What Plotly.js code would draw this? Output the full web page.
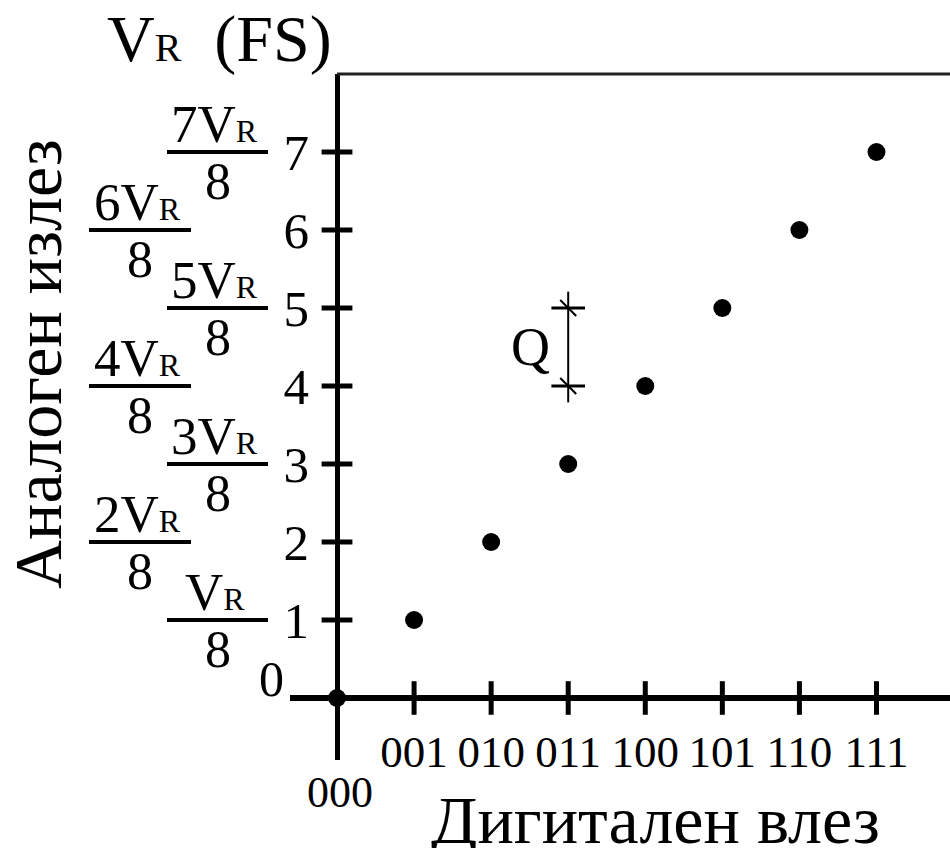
<!DOCTYPE html>
<html><head><meta charset="utf-8">
<script src="https://cdn.plot.ly/plotly-3.0.1.min.js"></script>
<style>html,body{margin:0;padding:0;background:#fff;} #chart{width:950px;height:848px;}</style>
</head><body><div id="chart"></div>
<script>
// ---- data ----
const codes = ['000','001','010','011','100','101','110','111'];
const codeIndex = [0,1,2,3,4,5,6,7];
const outputLevels = [0,1,2,3,4,5,6,7];
const levelTicks = [1,2,3,4,5,6,7];
const levelTickText = ['1','2','3','4','5','6','7'];
const fracCoef = ['', '2', '3', '4', '5', '6', '7'];
const fracDen = '8';
const qX = 3;
const qLevels = [4,5];
const qLabel = 'Q';
const yTitle = 'Аналоген излез';
const xTitle = 'Дигитален влез';

// ---- layout constants ----
const FONT = 'Liberation Serif, Times New Roman, serif';
const W=950, H=848, L=290, R=0, T=74, B=88;
const xr=[-0.61, 7.954], yr=[-0.795, 8.0];
const pw = W-L-R, ph = H-T-B;
const pX = p => (p-L)/pw;
const pY = p => (H-B-p)/ph;
const x0frac = (0-xr[0])/(xr[1]-xr[0]);
const y0frac = (0-yr[0])/(yr[1]-yr[0]);
const rSpan = s => '<span style="font-size:' + s + 'px">R</span>';

const traces = [
  { // x tick marks crossing the axis
    x: codeIndex.slice(1), y: codeIndex.slice(1).map(() => 0), mode:'markers', type:'scatter',
    marker:{symbol:'line-ns', size:24, line:{width:5, color:'#000'}}, hoverinfo:'skip', cliponaxis:false
  },
  { // y tick marks crossing the axis
    x: levelTicks.map(() => 0), y: levelTicks, mode:'markers', type:'scatter',
    marker:{symbol:'line-ew', size:22, line:{width:5, color:'#000'}}, hoverinfo:'skip', cliponaxis:false
  },
  { // Q dimension line
    x:[qX, qX], y:[qLevels[0]-0.21, qLevels[1]+0.21], mode:'lines', type:'scatter',
    line:{color:'#000', width:2}, hoverinfo:'skip'
  },
  {
    x: qLevels.map(() => qX), y: qLevels, mode:'markers', type:'scatter',
    marker:{symbol:'line-ew', size:24, line:{width:3, color:'#000'}}, hoverinfo:'skip'
  },
  {
    x: qLevels.map(() => qX), y: qLevels, mode:'markers', type:'scatter',
    marker:{symbol:'line-nw', size:16, line:{width:2, color:'#000'}}, hoverinfo:'skip'
  },
  { // DAC outputs
    x: codeIndex, y: outputLevels, mode:'markers', type:'scatter',
    marker:{symbol:'circle', size:18, color:'#000'}, cliponaxis:false
  }
];

const shapes = [
  {type:'line', xref:'paper', yref:'paper', x0:x0frac, x1:1, y0:1, y1:1, line:{color:'#222', width:3}}
];
const annotations = [];
levelTicks.forEach((lv, i) => {
  const odd = lv % 2 === 1;
  const x0 = odd ? 167 : 89, x1 = odd ? 268 : 191;
  const cx = (x0 + x1) / 2;
  shapes.push({type:'line', xref:'paper', yref:'y', x0:pX(x0), x1:pX(x1), y0:lv, y1:lv, line:{color:'#000', width:4}});
  annotations.push({xref:'paper', yref:'y', x:pX(cx), y:lv, xanchor:'center', yanchor:'bottom', yshift:-3, xshift:-3,
    text: fracCoef[i] + 'V' + rSpan(32), showarrow:false, font:{family:FONT, size:53, color:'#000'}});
  annotations.push({xref:'paper', yref:'y', x:pX(cx), y:lv, xanchor:'center', yanchor:'top', yshift:1,
    text: fracDen, showarrow:false, font:{family:FONT, size:52, color:'#000'}});
});
// origin labels
annotations.push({xref:'x', yref:'y', x:0, y:0, xanchor:'right', yanchor:'bottom', xshift:-51, yshift:-11,
  text: String(outputLevels[0]), showarrow:false, font:{family:FONT, size:50, color:'#000'}});
annotations.push({xref:'x', yref:'y', x:0, y:0, xanchor:'center', yanchor:'top', xshift:3, yshift:-68,
  text: codes[0], showarrow:false, font:{family:FONT, size:44, color:'#000'}});
// Q label
annotations.push({xref:'x', yref:'y', x:qX, y:(qLevels[0]+qLevels[1])/2, xanchor:'center', yanchor:'middle', xshift:-38, yshift:0,
  text: qLabel, showarrow:false, font:{family:FONT, size:54, color:'#000'}});
// titles
annotations.push({xref:'paper', yref:'paper', x:pX(38), y:pY(364), xanchor:'center', yanchor:'middle', textangle:-90,
  text: yTitle, showarrow:false, font:{family:FONT, size:68, color:'#000'}});
annotations.push({xref:'paper', yref:'paper', x:pX(655), y:pY(820), xanchor:'center', yanchor:'middle',
  text: xTitle, showarrow:false, font:{family:FONT, size:68, color:'#000'}});
annotations.push({xref:'paper', yref:'paper', x:pX(105), y:1, xanchor:'left', yanchor:'bottom', yshift:-4,
  text: 'V' + rSpan(40) + '\u00a0\u00a0(FS)', showarrow:false, font:{family:FONT, size:66, color:'#000'}});

const layout = {
  width:W, height:H, margin:{l:L, r:R, t:T, b:B, pad:0},
  paper_bgcolor:'#fff', plot_bgcolor:'#fff', showlegend:false,
  font:{family:FONT, color:'#000'},
  xaxis:{range:xr, anchor:'free', position:y0frac, tickvals:codeIndex.slice(1), ticktext:codes.slice(1),
    ticks:'', showgrid:false, showline:false, zeroline:true, zerolinecolor:'#000', zerolinewidth:5,
    tickfont:{family:FONT, size:45, color:'#000'}, ticklabelstandoff:23, fixedrange:true},
  yaxis:{range:yr, anchor:'free', position:x0frac, tickvals:levelTicks, ticktext:levelTickText,
    ticks:'', showgrid:false, showline:false, zeroline:true, zerolinecolor:'#000', zerolinewidth:6,
    tickfont:{family:FONT, size:51, color:'#000'}, ticklabelstandoff:28, fixedrange:true},
  shapes: shapes, annotations: annotations
};
Plotly.newPlot('chart', traces, layout, {displayModeBar:false, staticPlot:true});
</script></body></html>
